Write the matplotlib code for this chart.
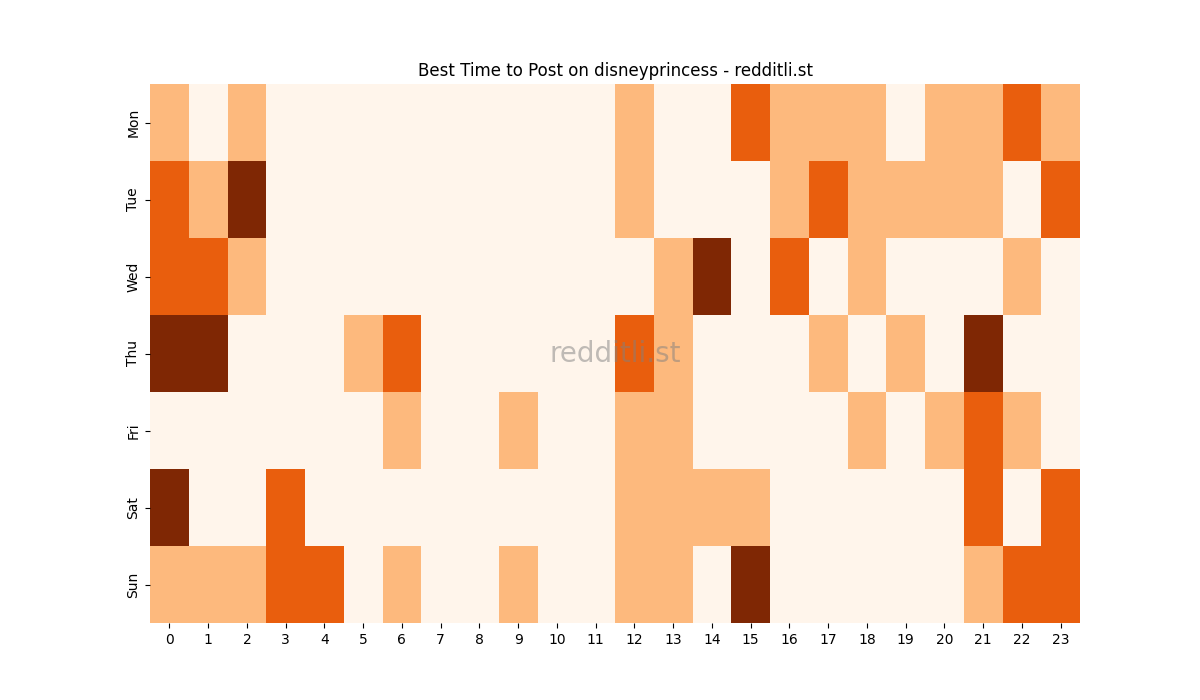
import matplotlib
matplotlib.use("Agg")
import matplotlib.pyplot as plt
import numpy as np
import seaborn as sns

days = ["Mon", "Tue", "Wed", "Thu", "Fri", "Sat", "Sun"]
hours = list(range(24))

# activity level per day (rows) and hour (columns), 0..3
mon = [1, 0, 1, 0, 0, 0, 0, 0, 0, 0, 0, 0, 1, 0, 0, 2, 1, 1, 1, 0, 1, 1, 2, 1]
tue = [2, 1, 3, 0, 0, 0, 0, 0, 0, 0, 0, 0, 1, 0, 0, 0, 1, 2, 1, 1, 1, 1, 0, 2]
wed = [2, 2, 1, 0, 0, 0, 0, 0, 0, 0, 0, 0, 0, 1, 3, 0, 2, 0, 1, 0, 0, 0, 1, 0]
thu = [3, 3, 0, 0, 0, 1, 2, 0, 0, 0, 0, 0, 2, 1, 0, 0, 0, 1, 0, 1, 0, 3, 0, 0]
fri = [0, 0, 0, 0, 0, 0, 1, 0, 0, 1, 0, 0, 1, 1, 0, 0, 0, 0, 1, 0, 1, 2, 1, 0]
sat = [3, 0, 0, 2, 0, 0, 0, 0, 0, 0, 0, 0, 1, 1, 1, 1, 0, 0, 0, 0, 0, 2, 0, 2]
sun = [1, 1, 1, 2, 2, 0, 1, 0, 0, 1, 0, 0, 1, 1, 0, 3, 0, 0, 0, 0, 0, 1, 2, 2]

grid = np.array([mon, tue, wed, thu, fri, sat, sun])

fig, ax = plt.subplots(figsize=(12, 7), dpi=100)
sns.heatmap(grid, cmap="Oranges", cbar=False, xticklabels=hours,
            yticklabels=days, ax=ax)
ax.set_yticklabels(days, rotation=90, va="center")
ax.set_xticklabels(hours, rotation=0)
ax.set_title("Best Time to Post on disneyprincess - redditli.st", fontsize=12)
ax.text(0.5, 0.5, "redditli.st", transform=ax.transAxes, fontsize=20,
        color="gray", alpha=0.5, ha="center", va="center")

fig.savefig("out.png", dpi=100)
